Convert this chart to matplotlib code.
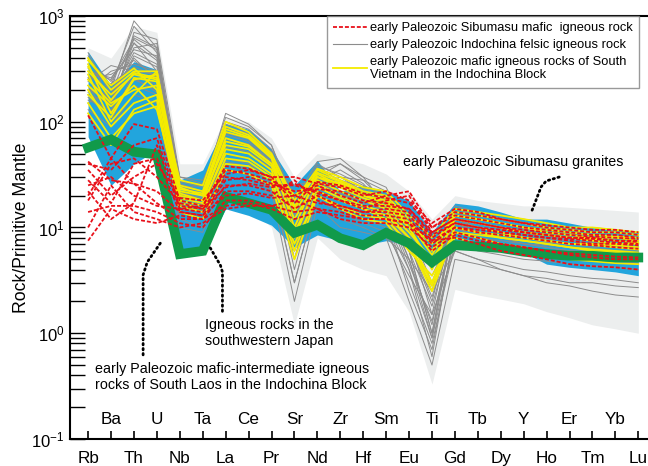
import matplotlib
matplotlib.use("Agg")
import matplotlib.pyplot as plt
import matplotlib.transforms as mtransforms
from matplotlib.lines import Line2D

plt.rcParams['font.family'] = ['Liberation Sans', 'DejaVu Sans']
plt.rcParams['mathtext.fontset'] = 'custom'
plt.rcParams['mathtext.rm'] = 'Liberation Sans'
plt.rcParams['mathtext.it'] = 'Liberation Sans:italic'

# Primitive-mantle normalised trace elements
elements = ['Rb', 'Ba', 'Th', 'U', 'Nb', 'Ta', 'La', 'Ce', 'Pr', 'Sr', 'Nd', 'Zr', 'Hf',
            'Sm', 'Eu', 'Ti', 'Gd', 'Tb', 'Dy', 'Y', 'Ho', 'Er', 'Tm', 'Yb', 'Lu']

# early Paleozoic Sibumasu granites (field)
granite_top = [500, 400, 800, 700, 40, 40, 110, 100, 70, 30, 50, 45, 40,
               32, 22, 12, 20, 18, 17, 16, 16, 15.5, 15, 14.5, 14]
granite_bot = [110, 50, 90, 70, 12, 10, 22, 16, 10, 1.2, 8, 5, 4,
               3.5, 1.6, 0.33, 2.6, 2.3, 2.1, 1.9, 1.6, 1.4, 1.2, 1.1, 1.0]

# early Paleozoic mafic-intermediate rocks of South Laos (field)
laos_top = [460, 220, 370, 310, 28, 35, 95, 85, 55, 25, 43, 22, 25,
            22, 18, 9, 17, 16, 14, 12, 12, 11, 10, 9.5, 9]
laos_bot = [72, 25, 40, 54, 5.8, 5.5, 15, 13, 10.5, 6.5, 8.5, 7.5, 6.8,
            7.5, 6.8, 4.5, 7.5, 6.8, 6, 5.8, 4.5, 4.2, 4, 3.8, 3.5]

# igneous rocks in southwestern Japan (average)
japan = [57, 68, 52, 49, 5.6, 6.0, 19.5, 17, 14.7, 8.9, 10.6, 7.9, 6.8,
         8.9, 7.1, 4.7, 6.8, 6.6, 6.4, 5.9, 5.6, 5.4, 5.4, 5.2, 5.2]

# early Paleozoic Indochina felsic igneous rocks
felsic_indochina = [
    [400, 200, 900, 500, 28, 25, 110, 90, 60, 15, 40, 30, 28, 22, 8, 1.5, 15, 13, 12, 11, 10, 9.5, 9, 9, 8.5],
    [300, 250, 600, 400, 25, 20, 90, 75, 50, 10, 35, 28, 24, 18, 6, 1.0, 12, 11, 10, 9.5, 9, 8.5, 8, 8, 7.5],
    [250, 160, 500, 550, 22, 20, 70, 60, 40, 5, 28, 20, 18, 14, 4, 0.6, 10, 9, 8, 7.5, 7, 6.5, 6.5, 6, 6],
    [200, 300, 350, 300, 18, 15, 60, 55, 38, 20, 30, 40, 30, 16, 10, 3, 12, 10, 9, 8, 7.5, 7, 7, 6.5, 6.5],
    [180, 150, 400, 250, 15, 14, 45, 40, 28, 3, 20, 15, 12, 10, 3, 0.8, 7, 6, 5.5, 5, 4.8, 4.5, 4.3, 4.2, 4],
    [350, 120, 700, 600, 30, 28, 80, 70, 45, 8, 30, 25, 20, 16, 5, 1.2, 12, 10, 9, 8.5, 8, 7.5, 7, 7, 6.5],
    [150, 200, 250, 200, 20, 16, 55, 50, 35, 25, 28, 35, 26, 15, 11, 4, 11, 9, 8, 7, 6.5, 6, 6, 5.5, 5.5],
    [280, 180, 450, 350, 25, 22, 100, 85, 55, 12, 38, 32, 25, 20, 7, 2, 14, 12, 11, 10, 9, 8.5, 8, 8, 7.5],
    [220, 100, 300, 280, 12, 10, 40, 35, 22, 2, 16, 10, 9, 8, 2, 0.5, 5, 4.5, 4, 3.5, 3.3, 3, 3, 2.8, 2.7],
    [320, 220, 800, 450, 26, 22, 120, 95, 60, 18, 42, 45, 30, 24, 9, 2.5, 16, 14, 13, 12, 11, 10, 10, 9.5, 9],
    [160, 130, 220, 180, 14, 12, 35, 32, 22, 6, 18, 14, 11, 9, 3.5, 1.5, 6, 5, 4.5, 4, 3.8, 3.5, 3.3, 3.2, 3],
    [260, 280, 380, 260, 22, 18, 75, 65, 42, 10, 30, 22, 20, 14, 6, 3.5, 10, 8, 7, 6.5, 6, 5.5, 5.2, 5, 5],
    [450, 180, 650, 500, 24, 25, 65, 60, 40, 4, 26, 18, 16, 13, 2.5, 0.7, 9, 8.5, 8, 7.5, 7.2, 7, 6.8, 6.5, 6.2],
    [130, 90, 180, 150, 10, 9, 30, 28, 20, 14, 15, 12, 10, 8, 5, 2.5, 6, 5, 4, 3.5, 3, 2.8, 2.5, 2.3, 2.2],
    [380, 240, 550, 380, 30, 26, 95, 80, 52, 7, 36, 28, 22, 19, 6, 1.0, 13, 12, 11, 10, 9.5, 9, 8.5, 8.5, 8],
    [240, 340, 300, 220, 17, 15, 50, 45, 32, 22, 25, 30, 22, 13, 9, 5, 10, 8, 7, 6, 5.5, 5, 4.8, 4.6, 4.5],
    [200, 160, 420, 330, 20, 18, 85, 75, 48, 9, 34, 40, 28, 17, 6, 1.8, 11, 9, 8, 7, 6.5, 6, 5.8, 5.6, 5.4],
    [170, 110, 260, 190, 16, 14, 42, 38, 26, 3, 20, 16, 14, 11, 4, 0.9, 8, 7, 6.5, 6, 5.5, 5.2, 5, 4.8, 4.6],
    [300, 260, 480, 420, 24, 21, 68, 62, 42, 16, 29, 26, 21, 17, 7, 2.2, 11, 10, 9.5, 9, 8.5, 8, 7.8, 7.5, 7.2],
    [420, 150, 560, 300, 27, 24, 88, 78, 50, 6, 33, 24, 19, 15, 4.5, 1.3, 10, 9, 8.5, 8, 7.8, 7.5, 7.2, 7, 6.8],
    [190, 230, 330, 270, 19, 17, 58, 52, 36, 13, 27, 21, 17, 13, 6.5, 2.8, 9, 8, 7.5, 7, 6.8, 6.5, 6.2, 6, 5.8],
    [260, 140, 620, 480, 21, 19, 78, 68, 44, 5, 30, 27, 23, 17, 5, 0.9, 12, 11, 10, 9.5, 9, 8.8, 8.5, 8.2, 8],
]

# early Paleozoic mafic igneous rocks of South Vietnam
mafic_vietnam = [
    [400, 200, 300, 300, 25, 22, 90, 75, 48, 15, 35, 28, 22, 20, 12, 6, 14, 13, 12, 11, 10, 9.5, 9, 9, 8.5],
    [350, 120, 250, 280, 22, 20, 80, 70, 45, 10, 32, 25, 20, 18, 10, 4, 13, 12, 11, 10, 9, 8.5, 8, 8, 7.5],
    [250, 150, 200, 220, 20, 18, 70, 60, 40, 20, 30, 26, 20, 17, 11, 7, 12, 11, 10, 9, 8.5, 8, 7.5, 7, 7],
    [200, 90, 150, 180, 18, 16, 55, 50, 35, 8, 26, 20, 16, 14, 8, 3, 10, 9, 8, 7.5, 7, 6.5, 6.2, 6, 5.8],
    [300, 180, 280, 250, 24, 20, 60, 55, 38, 12, 28, 22, 18, 15, 9, 5, 11, 10, 9, 8, 7.5, 7, 7, 6.8, 6.5],
    [150, 70, 120, 140, 16, 14, 45, 42, 30, 6, 22, 18, 15, 12, 7, 2.5, 9, 8, 7, 6.5, 6, 5.5, 5.2, 5, 4.8],
    [380, 220, 320, 200, 28, 25, 100, 80, 50, 18, 36, 30, 24, 22, 13, 8, 15, 14, 13, 12, 11, 10, 10, 9.5, 9],
    [120, 60, 130, 160, 14, 12, 35, 32, 25, 5, 20, 15, 12, 11, 6, 3.5, 8, 7, 6.5, 6, 5.5, 5, 4.8, 4.6, 4.5],
    [280, 100, 180, 300, 21, 18, 65, 58, 40, 14, 30, 24, 19, 16, 10, 4.5, 12, 11, 10, 9, 8.5, 8, 7.8, 7.5, 7.2],
    [220, 140, 220, 130, 19, 17, 50, 45, 32, 9, 24, 19, 15, 13, 8, 3, 10, 9, 8.5, 8, 7.5, 7, 6.8, 6.5, 6.2],
    [180, 110, 260, 240, 17, 15, 40, 38, 28, 7, 20, 16, 13, 12, 7, 2.8, 9, 8.5, 8, 7.5, 7, 6.5, 6, 5.8, 5.5],
    [330, 160, 290, 260, 23, 21, 85, 72, 46, 16, 33, 27, 21, 19, 11, 5.5, 13, 12, 11, 10, 9.5, 9, 8.5, 8.2, 8],
]

# early Paleozoic Sibumasu mafic igneous rocks
mafic_sibumasu = [
    [115, 45, 95, 85, 18, 16, 35, 32, 28, 20, 25, 20, 17, 20, 22, 10, 13, 12, 11, 10, 9.5, 9, 8.5, 8.5, 8],
    [40, 35, 60, 70, 16, 15, 30, 28, 25, 25, 22, 18, 15, 18, 20, 9, 12, 11, 10, 9, 8.5, 8, 8, 7.5, 7.5],
    [28, 17, 40, 45, 14, 13, 25, 25, 22, 15, 20, 16, 14, 15, 14, 8, 11, 10, 9, 8.5, 8, 7.5, 7, 7, 6.8],
    [20, 45, 26, 17, 12, 12, 22, 22, 20, 28, 18, 15, 13, 13, 12, 7, 10, 9, 8.5, 8, 7.5, 7, 6.8, 6.5, 6.3],
    [14, 16, 16, 14, 11, 10, 18, 18, 16, 18, 15, 12, 11, 11, 10, 6.5, 9, 8, 7, 6.5, 6, 5.5, 5.2, 5, 5],
    [7.5, 15, 12, 11, 13, 12, 16, 17, 15, 12, 14, 13, 12, 12, 11, 7.5, 8, 7, 6, 5.5, 5, 4.5, 4.3, 4.2, 4],
    [25, 30, 20, 16, 15, 14, 28, 30, 26, 22, 23, 22, 18, 17, 15, 9, 12, 11, 10, 9.5, 9, 8.5, 8.2, 8, 7.8],
    [35, 20, 30, 40, 19, 18, 32, 35, 30, 30, 26, 24, 20, 22, 18, 11, 15, 14, 12, 11, 10, 9.5, 9, 9, 8.5],
    [10, 25, 14, 12, 10, 11, 15, 16, 16, 14, 15, 14, 12, 12, 11, 6, 8.5, 7.5, 7, 6.5, 6, 5.7, 5.5, 5.3, 5.2],
    [42, 28, 26, 22, 14, 13, 20, 21, 19, 20, 17, 16, 14, 14, 13, 7.5, 10, 9.5, 9, 8.5, 8, 7.8, 7.5, 7.2, 7],
    [18, 40, 45, 30, 17, 15, 24, 26, 24, 26, 21, 18, 16, 16, 15, 8.5, 11, 10, 9.5, 9, 8.5, 8, 7.8, 7.5, 7.3],
    [22, 12, 17, 60, 15, 16, 38, 36, 30, 17, 27, 25, 21, 19, 17, 10, 14, 13, 12, 11, 10.5, 10, 9.5, 9.5, 9],
]

x = list(range(len(elements)))

fig = plt.figure(figsize=(6.48, 4.66), dpi=100)
ax = fig.add_axes([0.108, 0.058, 0.905, 0.9077])

ax.fill_between(x, granite_bot, granite_top, color='#eceeee', lw=0, zorder=1)
ax.fill_between(x, laos_bot, laos_top, color='#22a5dd', lw=0, zorder=2)
for row in felsic_indochina:
    ax.plot(x, row, color='#8c8c8c', lw=0.7, zorder=3)
for row in mafic_vietnam:
    ax.plot(x, row, color='#f4ec00', lw=1.3, zorder=4)
ax.plot(x, japan, color='#119a4a', lw=7, solid_joinstyle='miter', zorder=5)
for row in mafic_sibumasu:
    ax.plot(x, row, color='#e8101a', lw=1.3, ls=(0, (2.2, 1.1)), zorder=6)

ax.set_yscale('log')
ax.set_ylim(0.1, 1000)
ax.set_xlim(-0.79, 24.79)
ax.set_ylabel('Rock/Primitive Mantle', fontsize=12.7, labelpad=1)

# x ticks: bottom row labels below, alternate elements written inside
ax.set_xticks(x)
ax.set_xticklabels([e if i % 2 == 0 else '' for i, e in enumerate(elements)], fontsize=12.3)
trans = mtransforms.blended_transform_factory(ax.transData, ax.transAxes)
for i, e in enumerate(elements):
    if i % 2 == 1:
        ax.text(i, 0.045, e, transform=trans, ha='center', va='center', fontsize=12.3)
ax.tick_params(axis='x', direction='in', length=6, width=1.2, pad=9)
ax.tick_params(axis='y', which='both', direction='in', length=10.5, width=1.0,
               labelsize=12, pad=4)

for side in ['left', 'bottom', 'top']:
    ax.spines[side].set_linewidth(1.5)
ax.spines['right'].set_visible(False)

handles = [
    Line2D([], [], color='#e8101a', lw=1.3, ls=(0, (2.2, 1.1))),
    Line2D([], [], color='#8c8c8c', lw=0.8),
    Line2D([], [], color='#f4ec00', lw=1.3),
]
labels = [
    'early Paleozoic Sibumasu mafic  igneous rock',
    'early Paleozoic Indochina felsic igneous rock',
    'early Paleozoic mafic igneous rocks of South\nVietnam in the Indochina Block',
]
leg = ax.legend(handles, labels, loc='upper left', bbox_to_anchor=(0.438, 1.0),
                borderaxespad=0, fontsize=9.3, frameon=True, fancybox=False,
                handlelength=2.6, handletextpad=0.25, labelspacing=0.35,
                borderpad=0.5)
leg.get_frame().set_edgecolor('#808080')
leg.get_frame().set_linewidth(1.0)
leg.set_zorder(10)

# annotation labels with dotted leaders
dot = dict(color='black', lw=2.0, ls=(0, (0.5, 1.3)), dash_capstyle='round', zorder=7)
ax.plot([20.55, 19.98, 19.76, 19.54, 19.32], [30.0, 27.5, 24.2, 18.2, 13.7], **dot)
ax.plot([5.33, 5.77, 5.86, 5.86], [6.4, 4.4, 3.8, 1.55], **dot)
ax.plot([3.15, 2.58, 2.40, 2.40], [7.1, 4.7, 3.56, 0.6], **dot)

ax.text(13.73, 41.6, 'early Paleozoic Sibumasu granites', fontsize=10.3,
        ha='left', va='center', zorder=8)
ax.text(5.11, 1.0, 'Igneous rocks in the\nsouthwestern Japan', fontsize=10.3,
        ha='left', va='center', linespacing=1.15, zorder=8)
ax.text(0.31, 0.385, 'early Paleozoic mafic-intermediate igneous\nrocks of South Laos in the Indochina Block',
        fontsize=10.3, ha='left', va='center', linespacing=1.15, zorder=8)

fig.savefig('out.png', dpi=100)
